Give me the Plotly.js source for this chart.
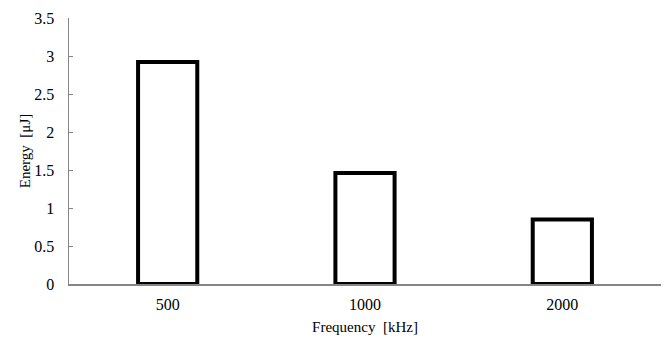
<!DOCTYPE html>
<html>
<head>
<meta charset="utf-8">
<script src="https://cdn.plot.ly/plotly-3.0.1.min.js"></script>
<style>html,body{margin:0;padding:0;background:#fff;}#chart{width:669px;height:341px;}</style>
</head>
<body>
<div id="chart"></div>
<script>
const frequencies = ['500', '1000', '2000'];
const energies = [2.92, 1.46, 0.85];
const yTicks = [0, 0.5, 1, 1.5, 2, 2.5, 3, 3.5];
const yTickLabels = ['0', '0.5', '1', '1.5', '2', '2.5', '3', '3.5'];

const fam = 'Liberation Serif, Times New Roman, serif';
const tickFont = {family: fam, size: 16, color: '#000'};
const titleFont = {family: fam, size: 15, color: '#000'};

Plotly.newPlot('chart', [{
  type: 'bar',
  x: frequencies,
  y: energies,
  marker: {color: '#ffffff', line: {color: '#000000', width: 4}},
  hoverinfo: 'none'
}], {
  width: 669, height: 341,
  margin: {l: 69, r: 8, t: 18, b: 57},
  paper_bgcolor: '#fff', plot_bgcolor: '#fff',
  font: tickFont,
  bargap: 0.70,
  showlegend: false,
  xaxis: {
    type: 'category',
    showline: true, linecolor: '#868686', linewidth: 1.5,
    showgrid: false, zeroline: false,
    ticks: '',
    tickfont: tickFont,
    ticklabelstandoff: 5,
    title: {text: 'Frequency  [kHz]', font: titleFont, standoff: 10}
  },
  yaxis: {
    range: [0, 3.5],
    tickvals: yTicks, ticktext: yTickLabels,
    showline: true, linecolor: '#868686', linewidth: 1.5,
    showgrid: false, zeroline: false,
    ticks: 'inside', ticklen: 4, tickcolor: '#868686', tickwidth: 1,
    tickfont: tickFont,
    ticklabelstandoff: 10,
    title: {text: 'Energy  [μJ]', font: titleFont, standoff: 0}
  }
}, {displayModeBar: false, staticPlot: true});
</script>
</body>
</html>
